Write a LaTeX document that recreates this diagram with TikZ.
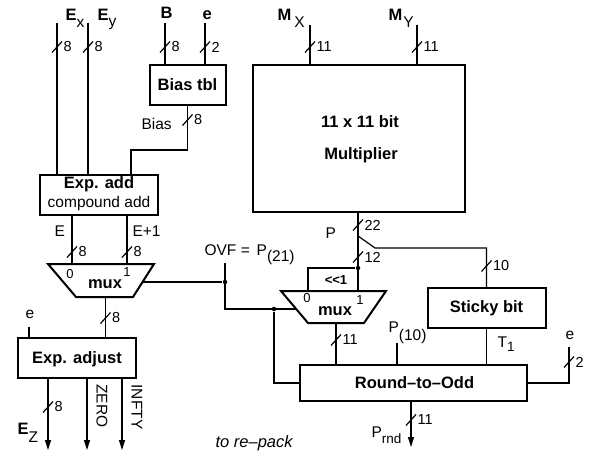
\documentclass[tikz,border=0pt]{standalone}
\usepackage{fontspec}
\setmainfont{Liberation Sans}
\usetikzlibrary{arrows.meta}
\newcommand\fb{\fontsize{16.5}{18}\selectfont\bfseries}
\newcommand\fn{\fontsize{15.5}{17}\selectfont\mdseries}
\newcommand\fs{\fontsize{13.5}{15}\selectfont\mdseries}
\newcommand{\bwtick}[3]{\draw (#1-5,#2+5.5) -- (#1+5,#2-5.5); \node[num,anchor=west] at (#1+6,#2) {#3};}
\begin{document}
\begin{tikzpicture}[x=1pt,y=-1pt,line width=1.2pt,
  blk/.style={draw,line width=2pt,rectangle,inner sep=0pt},
  bt/.style={font=\fb,inner sep=0pt},
  lb/.style={font=\fn,inner sep=0pt},
  num/.style={font=\fontsize{14.5}{16}\selectfont,inner sep=0pt},
  sm/.style={font=\fontsize{13}{14}\selectfont,inner sep=0pt},
  muxs/.style={draw,line width=2pt,line join=miter},
  dot/.style={circle,fill,inner sep=0pt,minimum size=4.5pt},
  arr/.style={-{Triangle[length=10pt,width=6pt]}},
]
\useasboundingbox (0,0) rectangle (600,460);

% ---------- blocks ----------
\node[blk,minimum width=76pt,minimum height=40pt] (bias) at (187.5,85) {};
\node[bt] (biastxt) at (187.5,85) {Bias tbl};
\node[blk,minimum width=118pt,minimum height=40pt] (expadd) at (99,195) {};
\node[bt,anchor=base] (expaddt) at (99,188) {Exp. add};
\node[lb,anchor=base] (expaddc) at (99,207) {compound add};
\node[blk,minimum width=212pt,minimum height=147pt] (mult) at (359,138.5) {};
\node[bt] (multa) at (360,122) {11 x 11 bit};
\node[bt] (multb) at (361,155) {Multiplier};
\node[blk,minimum width=118pt,minimum height=40pt] (expadj) at (77,358) {};
\node[bt,anchor=base] (expadjt) at (77,363.5) {Exp. adjust};
\node[blk,minimum width=118pt,minimum height=40pt] (sticky) at (486.5,308) {};
\node[bt] (stickyt) at (486.5,308) {Sticky bit};
\node[blk,minimum width=227pt,minimum height=36pt] (rto) at (413.5,383) {};
\node[bt] (rtot) at (414.5,383) {Round–to–Odd};

% ---------- multiplexers ----------
\draw[muxs] (48,264) -- (154,264) -- (133,297) -- (76,297) -- cycle;
\node[bt,anchor=base] (mux1) at (105,288) {mux};
\node[sm] (mux1z) at (70,274) {0};
\node[sm] (mux1o) at (127,272) {1};
\draw[muxs] (281,291) -- (386,291) -- (364,323) -- (308,323) -- cycle;
\node[bt,anchor=base] (mux2) at (335,315.5) {mux};
\node[sm] (mux2z) at (307,298) {0};
\node[sm] (mux2o) at (360,300) {1};

% ---------- inputs top ----------
\coordinate (ex) at (57,23);
\coordinate (ey) at (88,23);
\coordinate (b) at (165,23);
\coordinate (e1) at (205,23);
\coordinate (mx) at (310,25);
\coordinate (my) at (417,25);
\draw (ex) -- (ex |- expadd.north);
\draw (ey) -- (ey |- expadd.north);
\draw (b) -- (b |- bias.north);
\draw (e1) -- (e1 |- bias.north);
\draw (mx) -- (mx |- mult.north);
\draw (my) -- (my |- mult.north);
\bwtick{57}{47}{8}
\bwtick{88}{47}{8}
\bwtick{165}{47}{8}
\bwtick{205}{47}{2}
\bwtick{310}{47}{11}
\bwtick{417}{47}{11}
\node[anchor=base west,inner sep=0pt] (lex) at (65,21) {\fb E\fn\raisebox{-7pt}{x}};
\node[anchor=base west,inner sep=0pt] (ley) at (97,21) {\fb E\fn\raisebox{-6pt}{y}};
\node[bt,anchor=base west] (lb) at (160,19) {B};
\node[bt,anchor=base west] (le) at (202,20) {e};
\node[anchor=base west,inner sep=0pt] (lmx) at (277,21) {\fb M\hspace{3pt}\fn\raisebox{-7pt}{X}};
\node[anchor=base west,inner sep=0pt] (lmy) at (388,21) {\fb M\hspace{1pt}\fn\raisebox{-7pt}{Y}};

% ---------- bias to exp add ----------
\coordinate (biasin) at (131,150);
\draw (bias.south) |- (biasin) -- (biasin |- expadd.north);
\bwtick{187.5}{120}{8}
\node[lb,anchor=base west] (lbias) at (141,129) {Bias};

% ---------- exp add to mux1 ----------
\coordinate (m1a) at (72,264);
\coordinate (m1b) at (127,264);
\draw (m1a |- expadd.south) -- (m1a);
\draw (m1b |- expadd.south) -- (m1b);
\bwtick{72}{252}{8}
\bwtick{127}{252}{8}
\node[lb,anchor=base west] (lE) at (54,236) {E};
\node[lb,anchor=base west] (lE1) at (132,236) {E+1};

% ---------- mux1 to exp adjust ----------
\coordinate (m1o) at (105.5,297);
\draw (m1o) -- (m1o |- expadj.north);
\bwtick{105.5}{318}{8}
\coordinate (e2) at (29,327);
\draw (e2) -- (e2 |- expadj.north);
\node[lb,anchor=base west] (le2) at (25,318) {e};

% ---------- outputs of exp adjust ----------
\coordinate (ez) at (48,450);
\coordinate (zr) at (87,450);
\coordinate (inf) at (122,450);
\draw[arr] (ez |- expadj.south) -- (ez);
\draw[arr] (zr |- expadj.south) -- (zr);
\draw[arr] (inf |- expadj.south) -- (inf);
\bwtick{48}{407}{8}
\node[anchor=base west,inner sep=0pt] (lez) at (17,434) {\fb E\fn\raisebox{-8pt}{Z}};
\node[lb,rotate=-90] (lzero) at (102,406) {ZERO};
\node[lb,rotate=-90] (linf) at (137,407) {INFTY};
\node[anchor=base west,inner sep=0pt,font=\fontsize{16.5}{18}\selectfont\itshape] (lrep) at (215,447) {to re–pack};

% ---------- OVF select ----------
\coordinate (m1s) at (142.5,282);
\node[dot] (d1) at (225,282) {};
\coordinate (ovf) at (225,263);
\coordinate (ovfc) at (225,309);
\node[dot] (d2) at (274,309) {};
\coordinate (m2s) at (296,309);
\coordinate (rtoin) at (274,383);
\draw (m1s) -- (d1);
\draw (ovf) -- (ovfc) -- (m2s);
\draw (d2) -- (rtoin) -- (rto.west);
\node[anchor=base west,inner sep=0pt] (lovf) at (204,255) {\fn OVF =\, P\raisebox{-6pt}{(21)}};

% ---------- product path ----------
\coordinate (pbr) at (358,236);
\coordinate (pdg) at (375,248);
\coordinate (m2i1) at (358,291);
\coordinate (m2i0) at (308,291);
\node[dot] (d3) at (358,268) {};
\draw (mult.south -| pbr) -- (m2i1);
\draw (pbr) -- (pdg) -| (sticky.north);
\draw (d3) -| (m2i0);
\bwtick{358}{225}{22}
\bwtick{358}{257}{12}
\bwtick{486.5}{266}{10}
\node[lb,anchor=base west] (lP) at (325,238) {P};
\node[font=\fontsize{13}{14}\selectfont\bfseries,inner sep=0pt] (lsh) at (336,280) {<{}<{}1};

% ---------- into round-to-odd ----------
\coordinate (m2o) at (336,323);
\draw (m2o) -- (m2o |- rto.north);
\bwtick{336}{340}{11}
\coordinate (p10) at (397,343);
\draw (p10) -- (p10 |- rto.north);
\node[anchor=base west,inner sep=0pt] (lp10) at (388,332) {\fn P\raisebox{-8pt}{(10)}};
\draw (sticky.south) -- (sticky.south |- rto.north);
\node[anchor=base west,inner sep=0pt] (lt1) at (497,347) {\fn T\raisebox{-4pt}{\fs 1}};
\coordinate (e3) at (569,347);
\draw (rto.east) -| (e3);
\bwtick{569}{362}{2}
\node[lb,anchor=base west] (le3) at (565,339) {e};

% ---------- output ----------
\coordinate (prnd) at (411,447);
\draw[arr] (prnd |- rto.south) -- (prnd);
\bwtick{411}{420}{11}
\node[anchor=base west,inner sep=0pt] (lprnd) at (371,437) {\fn P\raisebox{-6pt}{\fs rnd}};
\end{tikzpicture}
\end{document}
